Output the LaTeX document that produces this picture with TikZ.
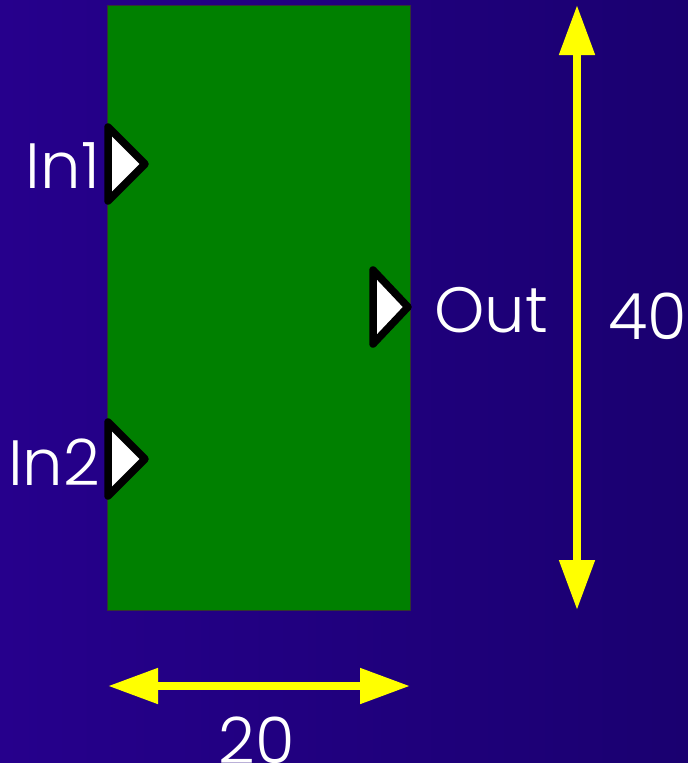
\documentclass[tikz,border=0pt]{standalone}
\usepackage{fontspec}
\setmainfont{Poppins}[UprightFont=* Light]
\usetikzlibrary{arrows.meta}
\definecolor{bgleft}{RGB}{38,0,140}
\definecolor{bgright}{RGB}{26,0,112}
\definecolor{blockgreen}{RGB}{0,128,0}
\definecolor{dimyellow}{RGB}{255,255,0}
\tikzset{
  port/.style={draw=black,line width=7.5pt,fill=white,line join=round,line cap=round},
  lbl/.style={text=white,font=\fontsize{64}{64}\selectfont,inner sep=0pt},
  dim/.style={draw=dimyellow,line width=8pt,{Triangle[length=50pt,width=34pt]}-{Triangle[length=50pt,width=34pt]}},
}
\begin{document}
\begin{tikzpicture}[x=1pt,y=-1pt]
\shade[left color=bgleft,right color=bgright] (0,0) rectangle (688,763);
\useasboundingbox (0,0) rectangle (688,763);
\node[draw=black!80,line width=1.2pt,fill=blockgreen,minimum width=303pt,minimum height=605pt,inner sep=0pt,anchor=north west] (box) at (107,5) {};
% ports
\draw[port] (108,127) -- (145,164) -- (108,201) -- cycle;
\draw[port] (108,422) -- (145,459) -- (108,496) -- cycle;
\draw[port] (373,270) -- (408,307) -- (373,344) -- cycle;
% labels
\node[lbl,anchor=east] (lin1) at (100,166) {In1};
\node[lbl,anchor=east] (lin2) at (100,462) {In2};
\node[lbl,anchor=west] (lout) at (434,310) {Out};
\node[lbl] (l40) at (648,316) {40};
\node[lbl] (l20) at (257,740) {20};
% dimension arrows
\coordinate (vtop) at (577,5);
\coordinate (vbot) at (577,610);
\coordinate (hl) at (108,686);
\coordinate (hr) at (410,686);
\draw[dim] (vtop) -- (vbot);
\draw[dim] (hl) -- (hr);
\end{tikzpicture}
\end{document}
